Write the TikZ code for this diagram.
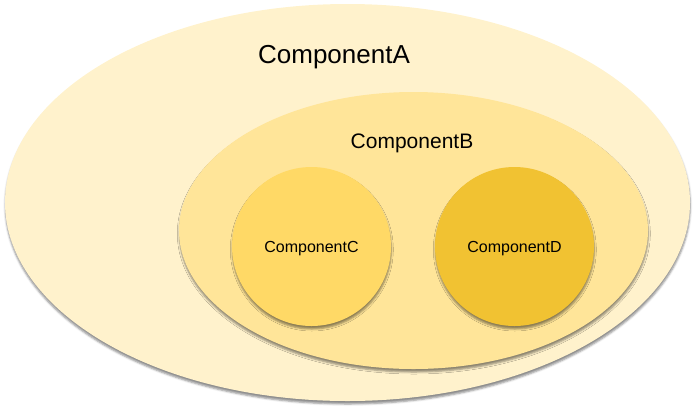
\documentclass[tikz,border=0pt]{standalone}
\usepackage{fontspec}
\setmainfont{Liberation Sans}
\usetikzlibrary{
    positioning,
    shapes.geometric,
    shadows.blur
}
\definecolor{yLight}{HTML}{FFF2CC}
\definecolor{yMid}{HTML}{FFE599}
\definecolor{yWarm}{HTML}{FFD966}
\definecolor{yDeep}{HTML}{F1C232}
\tikzset{
  soft/.style   = {blur shadow={shadow xshift=0.3pt, shadow yshift=-3pt,
                    shadow blur radius=2pt, shadow opacity=45}},
  region/.style = {ellipse, inner sep=0pt, soft},
  comp/.style   = {circle, inner sep=0pt, minimum size=159pt, soft,
                    text depth=0pt, font=\fontsize{16}{18}\selectfont}
}

\begin{document}
\begin{tikzpicture}[
        x=1pt, y=-1pt,
        title/.style={inner sep=0pt, anchor=center}
      ]
        \useasboundingbox (0,0) rectangle (693,413);

        % ── OUTER ──
        \node[region, fill=yLight, minimum width=685pt, minimum height=397pt]
          (compA) at (347.5,202.5) {};
        \node[title, font=\fontsize{26}{30}\selectfont] (labA) at (334,57) {ComponentA};

        % ── INNER ──
        \node[region, fill=yMid, minimum width=469pt, minimum height=277pt]
          (compB) at (413.5,230.5) {};
        \node[title, font=\fontsize{21}{24}\selectfont] (labB) at (412,143) {ComponentB};

        % ── LEAVES ──
        \node[comp, fill=yWarm] (compC) at (311.5,246.5) {ComponentC};
        \node[comp, fill=yDeep] (compD) at (514.5,246.5) {ComponentD};
      \end{tikzpicture}
\end{document}
